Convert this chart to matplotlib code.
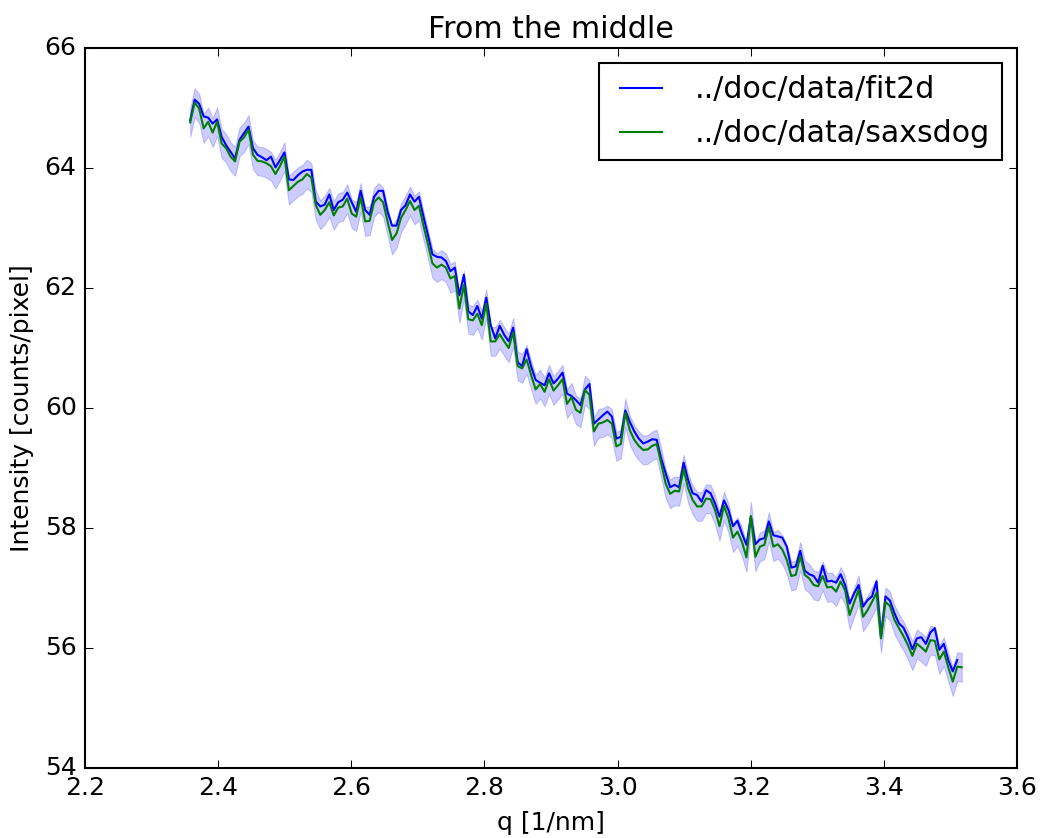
import numpy as np
import matplotlib
matplotlib.use('Agg')
import matplotlib.pyplot as plt

plt.style.use('classic')

# q grid (1/nm), evenly spaced
q_start, q_stop, n_q = 2.358, 3.517, 173

fit2d = [
    64.80, 65.14, 65.07, 64.86, 64.84, 64.74, 64.81, 64.52, 64.38, 64.27,
    64.16, 64.47, 64.58, 64.69, 64.33, 64.22, 64.18, 64.13, 64.19, 64.01,
    64.13, 64.26, 63.81, 63.80, 63.88, 63.94, 63.97, 63.97, 63.44, 63.36,
    63.39, 63.56, 63.30, 63.43, 63.47, 63.59, 63.43, 63.27, 63.62, 63.30,
    63.22, 63.52, 63.62, 63.62, 63.27, 63.04, 63.04, 63.30, 63.38, 63.56,
    63.44, 63.52, 63.19, 62.88, 62.56, 62.52, 62.51, 62.45, 62.28,
    62.34, 61.88, 62.22, 61.61, 61.55, 61.70, 61.49, 61.84, 61.38, 61.16,
    61.37, 61.22, 61.11, 61.34, 60.76, 60.70, 60.98, 60.69, 60.47, 60.42,
    60.38, 60.58, 60.41, 60.49, 60.59, 60.24, 60.20, 60.13, 60.05,
    60.31, 60.40, 59.74, 59.81, 59.88, 59.94, 59.86, 59.49, 59.52, 59.96,
    59.77, 59.61, 59.49, 59.41, 59.44, 59.48, 59.47, 59.16, 58.91, 58.68,
    58.72, 58.68, 59.09, 58.80, 58.58, 58.55, 58.44, 58.63, 58.58,
    58.41, 58.19, 58.46, 58.30, 58.03, 58.12, 57.91, 57.72, 58.19, 57.73,
    57.81, 57.83, 58.11, 57.88, 57.86, 57.84, 57.69, 57.34, 57.36, 57.62,
    57.29, 57.23, 57.20, 57.09, 57.37, 57.11, 57.12, 57.09, 57.23,
    57.05, 56.74, 56.91, 57.05, 56.69, 56.80, 56.86, 57.11, 56.18, 56.86,
    56.79, 56.58, 56.41, 56.34, 56.18, 55.98, 56.16, 56.18, 56.07, 56.26,
    56.33, 55.97, 56.07, 55.80, 55.61, 55.80,
]

saxsdog = [
    64.76, 65.09, 64.99, 64.66, 64.77, 64.59, 64.77, 64.41, 64.33, 64.19,
    64.11, 64.44, 64.51, 64.64, 64.22, 64.12, 64.11, 64.08, 64.03, 63.90,
    64.03, 64.19, 63.63, 63.70, 63.77, 63.81, 63.90, 63.84, 63.38, 63.22,
    63.30, 63.43, 63.21, 63.34, 63.36, 63.49, 63.24, 63.19, 63.51, 63.11,
    63.12, 63.43, 63.51, 63.43, 63.11, 62.80, 62.91, 63.17, 63.30, 63.45,
    63.30, 63.37, 63.04, 62.73, 62.41, 62.34, 62.39, 62.34, 62.16,
    62.20, 61.66, 62.05, 61.48, 61.46, 61.57, 61.38, 61.74, 61.11, 61.11,
    61.23, 61.11, 61.00, 61.26, 60.70, 60.66, 60.81, 60.55, 60.31, 60.40,
    60.27, 60.48, 60.29, 60.38, 60.48, 60.07, 60.18, 59.97, 59.92,
    60.30, 60.22, 59.61, 59.74, 59.76, 59.80, 59.74, 59.36, 59.40, 59.92,
    59.63, 59.47, 59.37, 59.30, 59.31, 59.37, 59.40, 59.08, 58.74, 58.57,
    58.62, 58.61, 58.98, 58.66, 58.47, 58.36, 58.36, 58.49, 58.48,
    58.30, 58.03, 58.37, 58.16, 57.84, 57.94, 57.77, 57.51, 58.20, 57.52,
    57.69, 57.72, 58.02, 57.69, 57.73, 57.64, 57.47, 57.20, 57.22, 57.53,
    57.22, 57.16, 57.05, 57.03, 57.20, 57.01, 57.02, 56.94, 57.11,
    56.96, 56.55, 56.76, 56.97, 56.52, 56.63, 56.77, 56.92, 56.16, 56.77,
    56.70, 56.47, 56.33, 56.20, 56.05, 55.87, 56.07, 56.01, 55.94, 56.13,
    56.12, 55.81, 55.94, 55.68, 55.44, 55.69, 55.68,
]
err = 0.24  # error bar half width

q = np.linspace(q_start, q_stop, n_q)
fit2d = np.array(fit2d)
saxsdog = np.array(saxsdog)

fig = plt.figure(figsize=(1042 / 150, 838 / 150), dpi=150, facecolor='white')
ax = fig.add_axes([0.0816, 0.0835, 0.8944, 0.8592])

ax.fill_between(q, saxsdog - err, saxsdog + err, facecolor='b', edgecolor='b',
                alpha=0.2, linewidth=0.5)
ax.plot(q[:len(fit2d)], fit2d, 'b-', label='../doc/data/fit2d')
ax.plot(q, saxsdog, 'g-', label='../doc/data/saxsdog')

ax.set_xlim(2.2, 3.6)
ax.set_ylim(54, 66)
ax.set_xticks(np.arange(2.2, 3.61, 0.2))
ax.set_xlabel('q [1/nm]')
ax.set_ylabel('Intensity [counts/pixel]')
ax.set_title('From the middle')
ax.legend(loc='upper right')

fig.savefig('out.png', dpi=150, facecolor='white')
